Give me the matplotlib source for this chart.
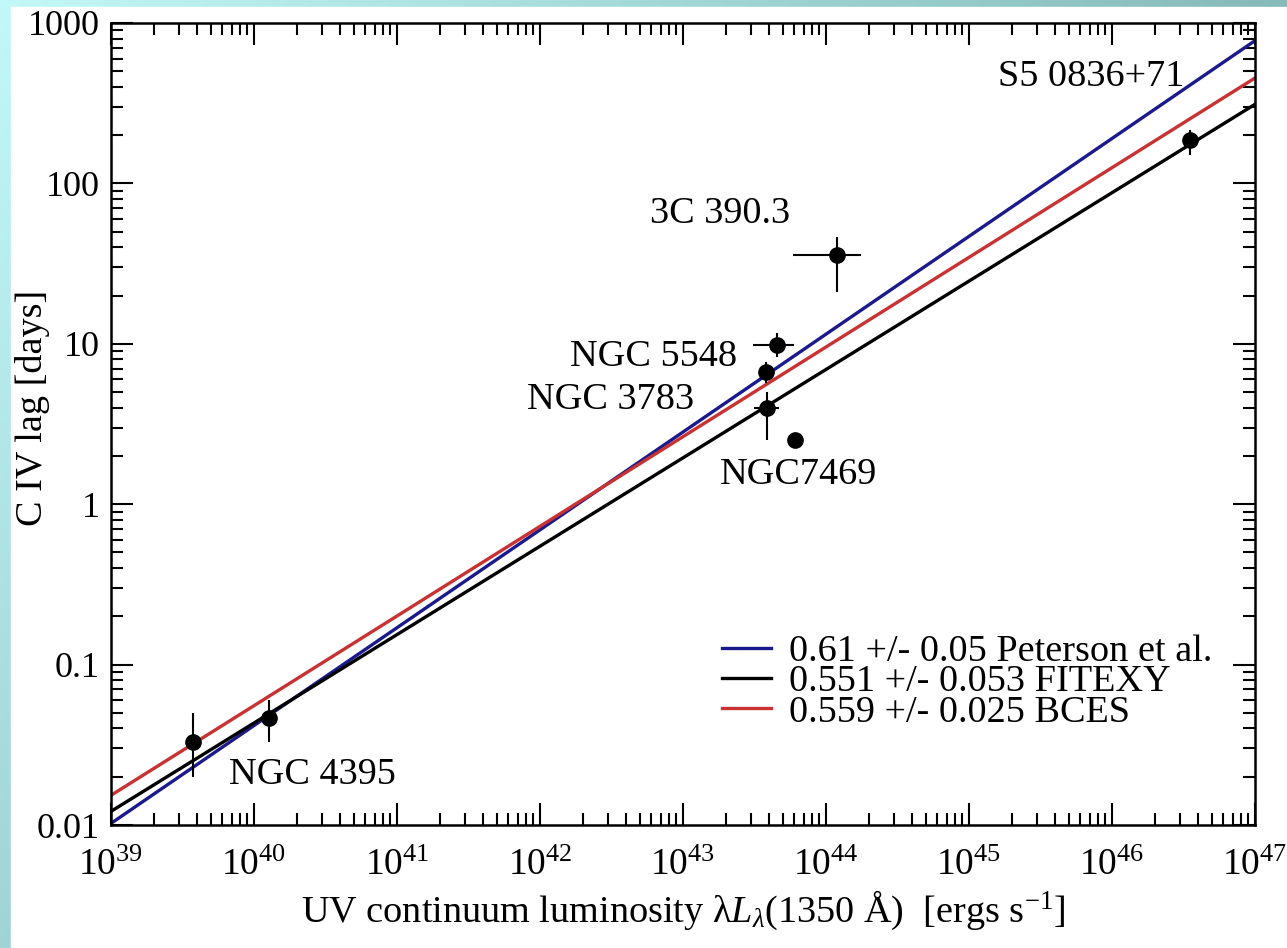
import matplotlib
matplotlib.use("Agg")
import matplotlib.pyplot as plt
import numpy as np
from matplotlib.patches import Rectangle
from matplotlib.ticker import LogLocator, FixedLocator, FixedFormatter, NullFormatter

plt.rcParams['font.family'] = ['Liberation Serif', 'DejaVu Serif']
plt.rcParams['mathtext.fontset'] = 'custom'
plt.rcParams['mathtext.rm'] = 'Liberation Serif'
plt.rcParams['mathtext.it'] = 'Liberation Serif:italic'
plt.rcParams['mathtext.bf'] = 'Liberation Serif:bold'

# C IV reverberation lags vs UV luminosity
names = ['NGC 4395 a', 'NGC 4395 b', 'NGC 5548 a', 'NGC 5548 b', 'NGC 3783',
         'NGC7469', '3C 390.3', 'S5 0836+71']
lum = [3.74e39, 1.27e40, 4.54e43, 3.80e43, 3.86e43, 6.07e43, 1.19e44, 3.5e46]
lum_lo = [3.74e39, 1.27e40, 3.09e43, 3.80e43, 3.14e43, 5.6e43, 5.87e43, 3.5e46]
lum_hi = [3.74e39, 1.27e40, 5.97e43, 3.80e43, 4.69e43, 6.6e43, 1.76e44, 3.5e46]
lag = [0.0329, 0.0464, 9.84, 6.67, 3.98, 2.51, 35.8, 186.5]
lag_lo = [0.0199, 0.0329, 8.27, 5.7, 2.51, 2.51, 21.0, 150.0]
lag_hi = [0.0499, 0.060, 11.7, 7.7, 5.0, 2.51, 46.4, 215.0]

# fits: log(lag) = icpt + slope * (log L - 44)
fit_labels = ['0.61 +/- 0.05 Peterson et al.', '0.551 +/- 0.053 FITEXY', '0.559 +/- 0.025 BCES']
fit_slope = [0.61, 0.551, 0.559]
fit_icpt = [1.06, 0.84, 0.98]
fit_colors = ['#1a1a8c', 'black', '#c83232']

labels = ['S5 0836+71', '3C 390.3', 'NGC 5548', 'NGC 3783', 'NGC7469', 'NGC 4395']
label_x = [1.6e45, 5.9e42, 1.62e42, 8.1e41, 1.82e43, 6.7e39]
label_y = [460, 65, 8.3, 4.47, 1.52, 0.0205]

fig = plt.figure(figsize=(12.87, 9.48), dpi=100)

# gradient frame behind a white panel
bg = fig.add_axes([0, 0, 1, 1], zorder=-2)
u, v = np.meshgrid(np.linspace(0, 1, 300), np.linspace(0, 1, 220))
t = np.clip(0.86 * u + 0.49 * v, 0, 1)
light = np.array([195, 248, 248]) / 255
dark = np.array([125, 175, 175]) / 255
img = light[None, None, :] + (dark - light)[None, None, :] * t[..., None]
bg.imshow(img, extent=[0, 1, 0, 1], origin='upper', aspect='auto')
bg.add_patch(Rectangle((11 / 1287, 0), 1, 1 - 7 / 948, color='white', transform=bg.transAxes))
bg.set_xlim(0, 1)
bg.set_ylim(0, 1)
bg.axis('off')

ax = fig.add_axes([111 / 1287, 1 - 825 / 948, 1144 / 1287, 802 / 948])
ax.set_xscale('log')
ax.set_yscale('log')
ax.set_xlim(1e39, 1e47)
ax.set_ylim(0.01, 1000)

xs = np.logspace(39, 47, 50)
for s, c0, col, lab in zip(fit_slope, fit_icpt, fit_colors, fit_labels):
    ax.plot(xs, 10 ** (c0 + s * (np.log10(xs) - 44)), color=col, lw=2.4, label=lab)

lum = np.array(lum)
lag = np.array(lag)
xerr = [lum - np.array(lum_lo), np.array(lum_hi) - lum]
yerr = [lag - np.array(lag_lo), np.array(lag_hi) - lag]
ax.errorbar(lum, lag, xerr=xerr, yerr=yerr, fmt='o', color='black', ms=11,
            elinewidth=1.5, capsize=0, zorder=5)

for txt, lx, ly in zip(labels, label_x, label_y):
    ax.text(lx, ly, txt, fontsize=27.5, ha='left', va='center')

ax.set_xticks([10.0 ** k for k in range(39, 48)])
ax.set_xticklabels([r'$10^{%d}$' % k for k in range(39, 48)])
ax.xaxis.set_minor_locator(LogLocator(base=10, subs=np.arange(2, 10), numticks=20))
ax.xaxis.set_minor_formatter(NullFormatter())
ax.yaxis.set_major_locator(FixedLocator([0.01, 0.1, 1, 10, 100, 1000]))
ax.yaxis.set_major_formatter(FixedFormatter(['0.01', '0.1', '1', '10', '100', '1000']))
ax.yaxis.set_minor_locator(LogLocator(base=10, subs=np.arange(2, 10), numticks=20))
ax.yaxis.set_minor_formatter(NullFormatter())

ax.tick_params(which='both', direction='in', top=True, right=True, width=1.5, labelsize=26)
ax.tick_params(which='major', length=16, pad=8)
ax.tick_params(axis='x', which='major', labelsize=27, pad=17)
ax.tick_params(which='minor', length=8.5)
for sp in ax.spines.values():
    sp.set_linewidth(1.8)

ax.set_xlabel(r'UV continuum luminosity λ$L_{λ}$(1350 Å)  [ergs s$^{-1}$]', fontsize=27.5, labelpad=4)
ax.set_ylabel('C IV lag [days]', fontsize=27.5, va='center')
ax.yaxis.set_label_coords(-0.069, 0.52)

ax.legend(loc='lower right', bbox_to_anchor=(0.9624, 0.119), frameon=False, fontsize=27.5,
          borderpad=0, borderaxespad=0, handlelength=1.3, handletextpad=0.45,
          labelspacing=-0.12)

fig.savefig('out.png', dpi=100)
